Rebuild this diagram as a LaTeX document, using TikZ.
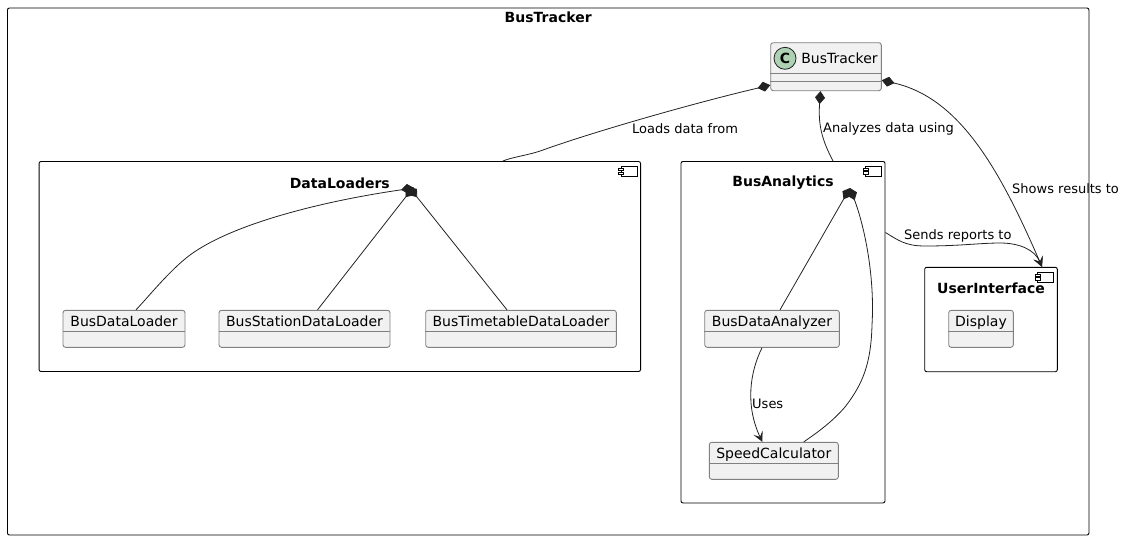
\documentclass[tikz,border=0pt]{standalone}
\usepackage{fontspec}
\setmainfont{DejaVu Sans}
\usetikzlibrary{calc,arrows.meta}
\definecolor{boxfill}{HTML}{F1F1F1}
\definecolor{boxline}{HTML}{808080}
\definecolor{linkline}{HTML}{222222}
\definecolor{spotfill}{HTML}{ADD1B2}
\begin{document}
\begin{tikzpicture}
[x=1pt,y=-1pt,>={Stealth[length=10pt,width=10pt,inset=4.5pt]},
groupbox/.style = {draw=black, rounded corners=2pt, line width=0.9pt, inner sep=0pt},
grouptitle/.style = {font=\fontsize{14}{16}\selectfont\bfseries, inner sep=0pt},
iconpart/.style = {draw=black, fill=white, line width=0.7pt},
classbox/.style = {draw=boxline, fill=boxfill, rounded corners=2.5pt, line width=0.9pt, inner xsep=0pt, inner ysep=4.4pt, text height=11.8pt, text depth=16.4pt, font=\fontsize{14}{16}\selectfont},
linktext/.style = {font=\fontsize{13}{15}\selectfont, inner sep=0pt, anchor=west},
link/.style = {draw=linkline, line width=0.8pt},
compose/.style = {link, {Diamond[length=13pt,width=10pt,fill=linkline]}-},
composeto/.style = {link, {Diamond[length=13pt,width=10pt,fill=linkline]}->},
]
\useasboundingbox (0,0) rectangle (1126,539);
\node (system) at (548.2,271.5)[groupbox,minimum width=1081.5pt,minimum height=527pt] {};
\node (systemtitle) at (548.2,17)[grouptitle] {BusTracker};
\foreach \name/\cx/\cy/\wid/\hei/\txt in {dataloaders/339.8/266.5/601.5/210/DataLoaders,busanalytics/783/332.2/204/341.5/BusAnalytics,userinterface/991/319.5/132.6/104.4/UserInterface}
{
\node (\name) at (\cx,\cy)[groupbox,minimum width=\wid pt,minimum height=\hei pt] {};
\node (\name title) at ($(\name.north)+(0,21.8)$)[grouptitle] {\txt};
\draw[iconpart] ($(\name.north east)+(-20,5)$) rectangle ($(\name.north east)+(-4,15)$);
\draw[iconpart] ($(\name.north east)+(-22.5,7)$) rectangle ($(\name.north east)+(-17.5,9.7)$);
\draw[iconpart] ($(\name.north east)+(-22.5,10.8)$) rectangle ($(\name.north east)+(-17.5,13.5)$);
}
\foreach \name/\cx/\wid/\cy/\txt in {busdataloader/124/122/328.8/BusDataLoader,busstationloader/304.5/171/328.8/BusStationDataLoader,bustimetableloader/521/190.6/328.8/BusTimetableDataLoader,busanalyzer/772/134.6/328.8/BusDataAnalyzer,speedcalculator/773.8/129/460.8/SpeedCalculator,display/981/64.6/328.8/Display}
{
\node (\name) at (\cx,\cy)[classbox,minimum width=\wid pt] {\txt};
\draw[draw=boxline,line width=0.9pt] ($(\name.north west)+(0,21.3)$)--($(\name.north east)+(0,21.3)$);
}
\node (bustracker) at (826,66.7)[classbox,minimum width=110.6pt,text height=16.2pt,text depth=23pt] {\hspace{27pt}BusTracker};
\draw[draw=boxline,line width=0.9pt] ($(bustracker.north west)+(0,31.6)$)--($(bustracker.north east)+(0,31.6)$);
\draw[draw=boxline,line width=0.9pt] ($(bustracker.north west)+(0,39.6)$)--($(bustracker.north east)+(0,39.6)$);
\node (btspot) at (785,58.3)[circle,draw=linkline,fill=spotfill,line width=0.8pt,minimum size=22pt,inner sep=0pt,font=\fontsize{14}{16}\selectfont\bfseries] {C};
\coordinate (dlhub) at (411,187);
\coordinate (bahub) at (850,188);
\draw[compose] ($(bustracker.south west)+(0,-6)$) .. controls (690,104) and (590,133) .. (543,150) .. controls (530,155) and (512,157) .. ($(dataloaders.north)+(163,0)$);
\draw[compose] ($(bustracker.south)+(-5.5,0)$) .. controls (818,125) and (822,140) .. ($(busanalytics.north)+(50,0)$);
\draw[composeto] ($(bustracker.north east)+(0,38)$) .. controls (960,98) and (1000,170) .. ($(userinterface.north)+(51,0)$);
\draw[link,->] ($(busanalytics.north east)+(0,71.5)$) .. controls (898,240) and (905,246) .. (925,246) .. controls (960,246) and (980,243) .. (1000,243) .. controls (1020,243) and (1035,250) .. ($(userinterface.north)+(51,0)$);
\draw[compose] ($(dlhub)+(3,1)$) .. controls (330,200) and (235,222) .. (190,255) .. controls (170,270) and (150,295) .. ($(busdataloader.north)+(12,0)$);
\draw[compose] ($(dlhub)+(2.5,0)$) -- ($(busstationloader.north)+(13,0)$);
\draw[compose] ($(dlhub)+(-2,0)$) -- ($(bustimetableloader.north)+(-14,0)$);
\draw[compose] (bahub) -- ($(busanalyzer.north)+(8,0)$);
\draw[compose] (bahub) .. controls (864,225) and (875,275) .. (872,325) .. controls (871,365) and (862,385) .. (845,407) .. controls (832,422) and (818,432) .. ($(speedcalculator.north)+(30,0)$);
\draw[link,->] ($(busanalyzer.south)+(-10,0)$) .. controls (750,372) and (745,405) .. ($(speedcalculator.north)+(-11.5,0)$);
\node (loadstext) at (632,128.5)[linktext] {Loads data from};
\node (analyzestext) at (823,128.5)[linktext] {Analyzes data using};
\node (showstext) at (1012,188.5)[linktext] {Shows results to};
\node (sendstext) at (904,235.5)[linktext] {Sends reports to};
\node (usestext) at (752,403.5)[linktext] {Uses};
\end{tikzpicture}
\end{document}
